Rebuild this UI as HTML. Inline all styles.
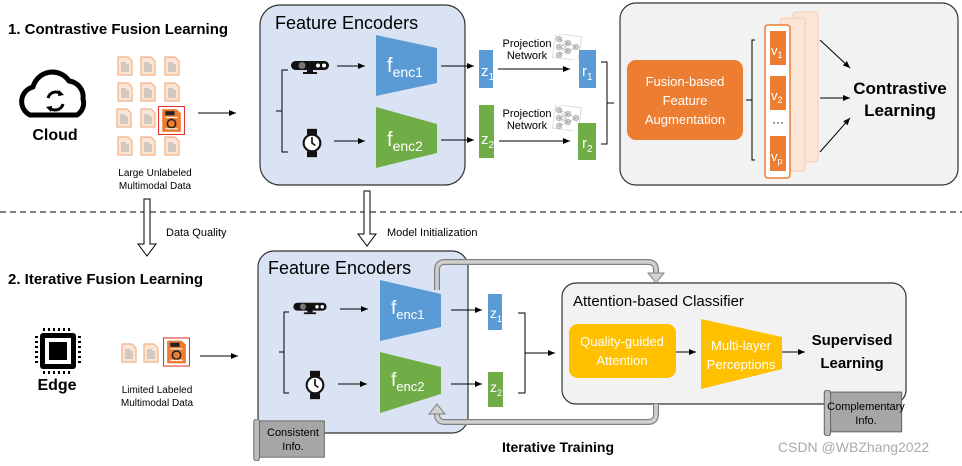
<!DOCTYPE html>
<html><head><meta charset="utf-8"><style>
body{margin:0;background:#fff;}
svg{display:block;font-family:"Liberation Sans",Arial,sans-serif;}
.b{font-weight:bold;}
</style></head><body>
<svg width="962" height="466" viewBox="0 0 962 466" xmlns="http://www.w3.org/2000/svg">
<defs>
<marker id="ar" markerWidth="8" markerHeight="8" refX="7" refY="4" orient="auto" markerUnits="userSpaceOnUse"><path d="M0,1 L7,4 L0,7 z" fill="#000"/></marker>
<symbol id="doc" viewBox="0 0 16 20"><path d="M1,1 H11 L15,5 V19 H1 Z" fill="#fbe5d6" stroke="#f4b183" stroke-width="1.2"/><path d="M4,9H12M4,11H12M4,13H12M4,15H12M4,7H9" stroke="#aaa" stroke-width="1"/></symbol>
<symbol id="hdoc" viewBox="0 0 26 28"><rect x="0.5" y="0.5" width="25" height="27" fill="#fff" stroke="#e03030"/><path d="M4,3 H18 L22,7 V25 H4 Z" fill="#ed7d31"/><rect x="7" y="5" width="9" height="4" fill="#222"/><circle cx="13" cy="17" r="4" fill="none" stroke="#222" stroke-width="1.5"/><path d="M7,11H19M7,22H19" stroke="#fff"/></symbol>
<symbol id="cam" viewBox="0 0 40 16"><rect x="1" y="2" width="38" height="9" rx="4.5" fill="#111"/><circle cx="12" cy="6.5" r="3.5" fill="#777"/><rect x="17" y="10" width="6" height="3" fill="#111"/><rect x="13" y="13" width="14" height="2" fill="#111"/><circle cx="28" cy="6.5" r="2" fill="#fff"/><circle cx="34" cy="6.5" r="2" fill="#fff"/></symbol>
<symbol id="watch" viewBox="0 0 24 34"><rect x="6" y="0" width="12" height="7" fill="#111"/><rect x="6" y="27" width="12" height="7" fill="#111"/><circle cx="12" cy="17" r="10" fill="#fff" stroke="#111" stroke-width="2.5"/><path d="M12,10V17L16,20" stroke="#111" stroke-width="2" fill="none"/></symbol>
<symbol id="nn" viewBox="0 0 30 26"><rect x="2" y="1" width="26" height="24" fill="#fff" stroke="#ddd" transform="rotate(8 15 13)"/><g fill="#ccc" stroke="#aaa" stroke-width=".5"><circle cx="7" cy="5" r="3"/><circle cx="7" cy="13" r="3"/><circle cx="7" cy="21" r="3"/><circle cx="16" cy="9" r="3"/><circle cx="16" cy="17" r="3"/><circle cx="24" cy="13" r="3"/></g><path d="M7,5L16,9L24,13M7,13L16,17M7,21L16,17L24,13M7,13L16,9M7,5L16,17M7,21L16,9" stroke="#999" stroke-width=".5" fill="none"/></symbol>
<symbol id="scroll" viewBox="0 0 80 44"><rect x="6" y="2" width="70" height="38" fill="#a6a6a6" stroke="#666"/><rect x="2" y="0" width="6" height="44" rx="3" fill="#bbb" stroke="#666"/></symbol>
</defs>

<text x="8" y="34" font-size="15" class="b">1. Contrastive Fusion Learning</text>
<path d="M30,115 a15,15 0 0 1 3,-28 a20,20 0 0 1 36,-6 a16,16 0 0 1 14,18 a14,14 0 0 1 -6,16 z" fill="none" stroke="#000" stroke-width="5" stroke-linejoin="round"/>
<path d="M48,98 a8,8 0 0 1 14,-3 M63,104 a8,8 0 0 1 -14,3" fill="none" stroke="#000" stroke-width="3"/>
<path d="M59,90 l5,5 l-6,1z M51,112 l-5,-5 l6,-1z" fill="#000"/>
<text x="55" y="140" font-size="16" text-anchor="middle" class="b">Cloud</text>
<g>
<use href="#doc" x="117" y="56" width="16" height="20"/><use href="#doc" x="140" y="56" width="16" height="20"/><use href="#doc" x="164" y="56" width="16" height="20"/>
<use href="#doc" x="117" y="82" width="16" height="20"/><use href="#doc" x="140" y="82" width="16" height="20"/><use href="#doc" x="164" y="82" width="16" height="20"/>
<use href="#doc" x="116" y="108" width="16" height="20"/><use href="#doc" x="140" y="108" width="16" height="20"/><use href="#hdoc" x="158" y="106" width="27" height="29"/>
<use href="#doc" x="117" y="136" width="16" height="20"/><use href="#doc" x="140" y="136" width="16" height="20"/><use href="#doc" x="164" y="136" width="16" height="20"/>
</g>
<text x="155" y="176" font-size="10" text-anchor="middle">Large Unlabeled</text>
<text x="155" y="189" font-size="10" text-anchor="middle">Multimodal Data</text>
<line x1="198" y1="113" x2="236" y2="113" stroke="#000" marker-end="url(#ar)"/>

<rect x="260" y="5" width="205" height="180" rx="20" fill="#dae3f3" stroke="#333" stroke-width="1.2"/>
<text x="275" y="29" font-size="18">Feature Encoders</text>
<use href="#cam" x="290" y="59" width="40" height="16"/>
<use href="#watch" x="302" y="128" width="20" height="30"/>
<path d="M288,70 H282 V152 H288 M282,111 H276" fill="none" stroke="#000"/>
<line x1="337" y1="66" x2="365" y2="66" stroke="#000" marker-end="url(#ar)"/>
<line x1="334" y1="141" x2="365" y2="141" stroke="#000" marker-end="url(#ar)"/>
<path d="M376,35 L437,48 V83 L376,96 Z" fill="#5b9bd5"/>
<path d="M376,107 L437,124 V153 L376,168 Z" fill="#70ad47"/>
<text x="387" y="72" font-size="20" fill="#fff">f<tspan font-size="14" dy="5">enc1</tspan></text>
<text x="387" y="146" font-size="20" fill="#fff">f<tspan font-size="14" dy="5">enc2</tspan></text>
<line x1="441" y1="66" x2="474" y2="66" stroke="#000" marker-end="url(#ar)"/>
<line x1="441" y1="140" x2="474" y2="140" stroke="#000" marker-end="url(#ar)"/>
<rect x="479" y="50" width="14" height="38" fill="#5b9bd5"/>
<rect x="479" y="105" width="15" height="53" fill="#70ad47"/>
<text x="481" y="76" font-size="15" fill="#fff">z<tspan font-size="10" dy="4">1</tspan></text>
<text x="481" y="144" font-size="15" fill="#fff">z<tspan font-size="10" dy="4">2</tspan></text>
<use href="#nn" x="552" y="34" width="30" height="26"/>
<use href="#nn" x="552" y="105" width="30" height="26"/>
<text x="527" y="47" font-size="11" text-anchor="middle">Projection</text>
<text x="527" y="59" font-size="11" text-anchor="middle">Network</text>
<text x="527" y="117" font-size="11" text-anchor="middle">Projection</text>
<text x="527" y="129" font-size="11" text-anchor="middle">Network</text>
<line x1="498" y1="69" x2="570" y2="69" stroke="#000" marker-end="url(#ar)"/>
<line x1="499" y1="141" x2="570" y2="141" stroke="#000" marker-end="url(#ar)"/>
<rect x="579" y="50" width="17" height="38" fill="#5b9bd5"/>
<rect x="578" y="123" width="18" height="37" fill="#70ad47"/>
<text x="582" y="76" font-size="15" fill="#fff">r<tspan font-size="10" dy="4">1</tspan></text>
<text x="582" y="148" font-size="15" fill="#fff">r<tspan font-size="10" dy="4">2</tspan></text>
<path d="M601,62 H607 V144 H601 M607,103 H614" fill="none" stroke="#000"/>

<rect x="620" y="3" width="338" height="182" rx="16" fill="#f2f2f2" stroke="#333" stroke-width="1.2"/>
<rect x="627" y="60" width="116" height="80" rx="9" fill="#ed7d31"/>
<text x="685" y="86" font-size="13" fill="#fff" text-anchor="middle">Fusion-based</text>
<text x="685" y="105" font-size="13" fill="#fff" text-anchor="middle">Feature</text>
<text x="685" y="124" font-size="13" fill="#fff" text-anchor="middle">Augmentation</text>
<path d="M755,40 H752 V160 H755 M752,100 H746" fill="none" stroke="#000"/>
<rect x="793" y="12" width="25" height="150" rx="3" fill="#fbe5d6" stroke="#f8cbad"/>
<rect x="780" y="18" width="25" height="153" rx="3" fill="#fbe5d6" stroke="#f8cbad"/>
<rect x="765" y="25" width="25" height="153" rx="3" fill="#fff" stroke="#ed7d31" stroke-width="1.5"/>
<rect x="770" y="31" width="16" height="34" fill="#ed7d31"/>
<rect x="770" y="76" width="16" height="34" fill="#ed7d31"/>
<rect x="770" y="136" width="16" height="35" fill="#ed7d31"/>
<text x="771" y="55" font-size="13" fill="#fff">v<tspan font-size="9" dy="3">1</tspan></text>
<text x="771" y="100" font-size="13" fill="#fff">v<tspan font-size="9" dy="3">2</tspan></text>
<text x="771" y="161" font-size="13" fill="#fff">v<tspan font-size="9" dy="3">p</tspan></text>
<text x="778" y="126" font-size="12" text-anchor="middle">···</text>
<line x1="820" y1="40" x2="850" y2="68" stroke="#000" marker-end="url(#ar)"/>
<line x1="820" y1="98" x2="850" y2="98" stroke="#000" marker-end="url(#ar)"/>
<line x1="820" y1="152" x2="850" y2="118" stroke="#000" marker-end="url(#ar)"/>
<text x="900" y="94" font-size="17" class="b" text-anchor="middle">Contrastive</text>
<text x="900" y="116" font-size="17" class="b" text-anchor="middle">Learning</text>

<line x1="0" y1="212" x2="962" y2="212" stroke="#000" stroke-dasharray="6,4"/>
<path d="M144,199 H150 V244 H156 L147,256 L138,244 H144 Z" fill="#fff" stroke="#000"/>
<text x="166" y="236" font-size="11">Data Quality</text>
<path d="M364,191 H370 V234 H376 L367,246 L358,234 H364 Z" fill="#fff" stroke="#000"/>
<text x="387" y="236" font-size="11">Model Initialization</text>

<text x="8" y="284" font-size="15" class="b">2. Iterative Fusion Learning</text>
<g fill="#000">
<rect x="40" y="333" width="36" height="36" rx="3"/>
<rect x="45" y="338" width="26" height="26" fill="#fff"/>
<rect x="49" y="342" width="18" height="18"/>
<path d="M44,328v3M49,328v3M54,328v3M59,328v3M64,328v3M69,328v3M44,371v3M49,371v3M54,371v3M59,371v3M64,371v3M69,371v3M35,337h3M35,342h3M35,347h3M35,352h3M35,357h3M35,362h3M78,337h3M78,342h3M78,347h3M78,352h3M78,357h3M78,362h3" stroke="#000" stroke-width="2"/>
</g>
<text x="57" y="390" font-size="16" class="b" text-anchor="middle">Edge</text>
<use href="#doc" x="121" y="343" width="16" height="20"/>
<use href="#doc" x="143" y="343" width="16" height="20"/>
<use href="#hdoc" x="163" y="337" width="27" height="30"/>
<text x="157" y="393" font-size="10" text-anchor="middle">Limited Labeled</text>
<text x="157" y="406" font-size="10" text-anchor="middle">Multimodal Data</text>
<line x1="200" y1="356" x2="238" y2="356" stroke="#000" marker-end="url(#ar)"/>

<rect x="258" y="251" width="210" height="182" rx="16" fill="#dae3f3" stroke="#333" stroke-width="1.2"/>
<text x="268" y="274" font-size="18">Feature Encoders</text>
<use href="#cam" x="292" y="301" width="36" height="14"/>
<use href="#watch" x="305" y="370" width="20" height="30"/>
<path d="M289,312 H284 V393 H289 M284,352 H279" fill="none" stroke="#000"/>
<line x1="340" y1="309" x2="368" y2="309" stroke="#000" marker-end="url(#ar)"/>
<line x1="338" y1="384" x2="367" y2="384" stroke="#000" marker-end="url(#ar)"/>
<path d="M380,280 L441,294 V327 L380,341 Z" fill="#5b9bd5"/>
<path d="M380,352 L441,367 V394 L380,413 Z" fill="#70ad47"/>
<text x="391" y="314" font-size="19" fill="#fff">f<tspan font-size="13" dy="5">enc1</tspan></text>
<text x="391" y="386" font-size="19" fill="#fff">f<tspan font-size="13" dy="5">enc2</tspan></text>
<line x1="451" y1="310" x2="482" y2="310" stroke="#000" marker-end="url(#ar)"/>
<line x1="451" y1="384" x2="482" y2="384" stroke="#000" marker-end="url(#ar)"/>
<rect x="488" y="294" width="14" height="36" fill="#5b9bd5"/>
<rect x="488" y="372" width="15" height="35" fill="#70ad47"/>
<text x="490" y="318" font-size="14" fill="#fff">z<tspan font-size="9" dy="4">1</tspan></text>
<text x="490" y="392" font-size="14" fill="#fff">z<tspan font-size="9" dy="4">2</tspan></text>
<path d="M518,313 H525 V393 H518 M525,353 H555" fill="none" stroke="#000" marker-end="url(#ar)"/>

<rect x="562" y="283" width="344" height="121" rx="14" fill="#f2f2f2" stroke="#333" stroke-width="1.2"/>
<text x="573" y="306" font-size="15">Attention-based Classifier</text>
<rect x="569" y="324" width="107" height="54" rx="9" fill="#ffc000"/>
<text x="622" y="346" font-size="13" fill="#fff" text-anchor="middle">Quality-guided</text>
<text x="622" y="365" font-size="13" fill="#fff" text-anchor="middle">Attention</text>
<line x1="676" y1="352" x2="696" y2="352" stroke="#000" marker-end="url(#ar)"/>
<path d="M701,319 L782,337 V369 L701,389 Z" fill="#ffc000"/>
<text x="741" y="350" font-size="13" fill="#fff" text-anchor="middle">Multi-layer</text>
<text x="741" y="369" font-size="13" fill="#fff" text-anchor="middle">Perceptions</text>
<line x1="782" y1="352" x2="805" y2="352" stroke="#000" marker-end="url(#ar)"/>
<text x="852" y="345" font-size="15" class="b" text-anchor="middle">Supervised</text>
<text x="852" y="368" font-size="15" class="b" text-anchor="middle">Learning</text>

<path d="M437,290 V270 Q437,262 445,262 H648 Q656,262 656,270 V275" fill="none" stroke="#7f7f7f" stroke-width="6"/>
<path d="M437,290 V270 Q437,262 445,262 H648 Q656,262 656,270 V275" fill="none" stroke="#d0d0d0" stroke-width="3.5"/>
<path d="M648,273 L664,273 L656,283 Z" fill="#d0d0d0" stroke="#7f7f7f"/>
<path d="M656,404 V414 Q656,422 648,422 H445 Q437,422 437,414 V412" fill="none" stroke="#7f7f7f" stroke-width="6"/>
<path d="M656,404 V414 Q656,422 648,422 H445 Q437,422 437,414 V412" fill="none" stroke="#d0d0d0" stroke-width="3.5"/>
<path d="M429,414 L445,414 L437,404 Z" fill="#d0d0d0" stroke="#7f7f7f"/>

<use href="#scroll" x="251" y="419" width="78" height="42"/>
<text x="293" y="436" font-size="11" text-anchor="middle">Consistent</text>
<text x="293" y="450" font-size="11" text-anchor="middle">Info.</text>
<use href="#scroll" x="814" y="390" width="100" height="46"/>
<text x="866" y="410" font-size="11" text-anchor="middle">Complementary</text>
<text x="866" y="424" font-size="11" text-anchor="middle">Info.</text>

<text x="558" y="452" font-size="14" class="b" text-anchor="middle">Iterative Training</text>
<text x="778" y="452" font-size="14" fill="#aaa">CSDN @WBZhang2022</text>
</svg>
</body></html>
